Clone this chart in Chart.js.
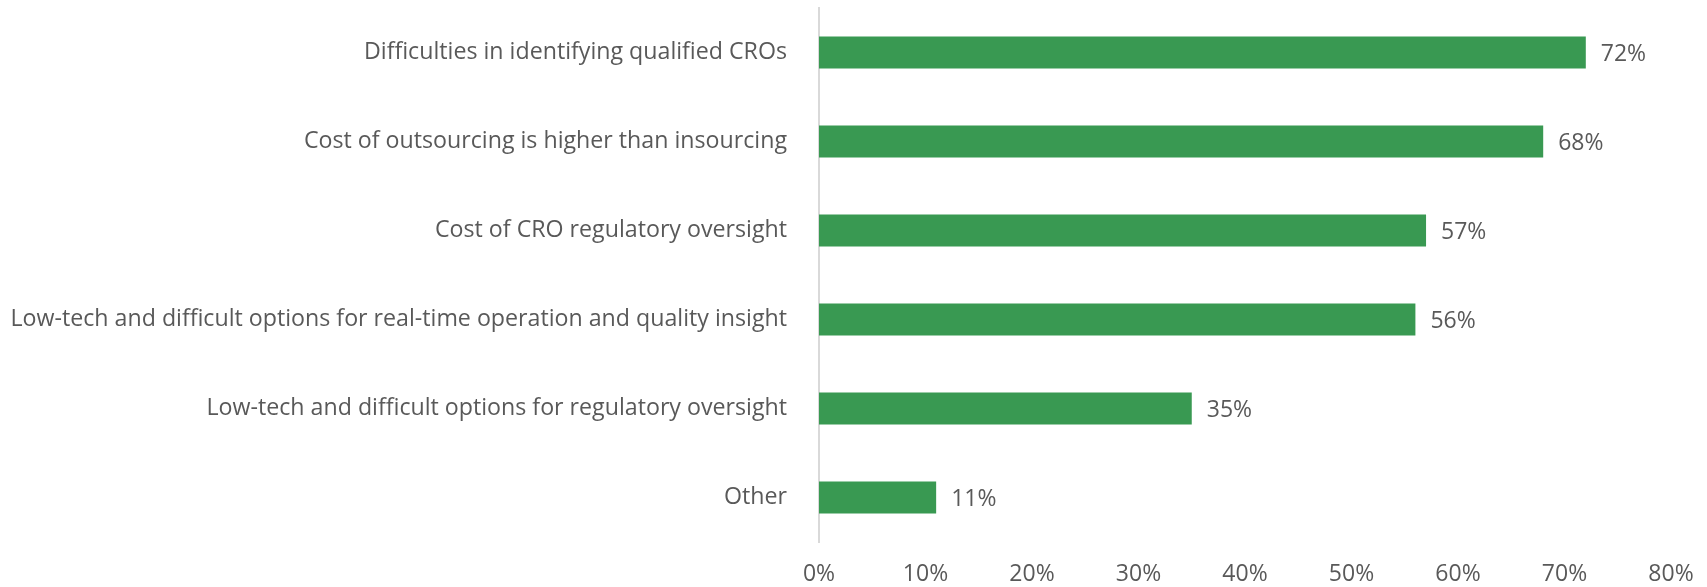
<!DOCTYPE html>
<html>
<head>
<meta charset="utf-8">
<script src="https://cdn.jsdelivr.net/npm/chart.js@4"></script>
<style>
  html, body { margin: 0; padding: 0; background: #fff; }
  #wrap { width: 1707px; height: 587px; }
</style>
</head>
<body>
<div id="wrap"><canvas id="chart"></canvas></div>
<script>
var categories = [
  'Difficulties in identifying qualified CROs',
  'Cost of outsourcing is higher than insourcing',
  'Cost of CRO regulatory oversight',
  'Low-tech and difficult options for real-time operation and quality insight',
  'Low-tech and difficult options for regulatory oversight',
  'Other'
];
var values = [72, 68, 57, 56, 35, 11];
var tickLabels = ['0%', '10%', '20%', '30%', '40%', '50%', '60%', '70%', '80%'];

var FONT = '"Open Sans", sans-serif';
var GREY = '#595959';

// writes the percentage just past the end of each bar
var barLabels = {
  id: 'barLabels',
  afterDatasetsDraw: function(chart) {
    var ctx = chart.ctx;
    var meta = chart.getDatasetMeta(0);
    ctx.save();
    ctx.font = '23px ' + FONT;
    ctx.fillStyle = GREY;
    ctx.textAlign = 'left';
    ctx.textBaseline = 'middle';
    meta.data.forEach(function(bar, i) {
      ctx.fillText(values[i] + '%', bar.x + 15, bar.y + 2);
    });
    ctx.restore();
  }
};

new Chart(document.getElementById('chart'), {
  type: 'bar',
  data: {
    labels: categories,
    datasets: [{
      data: values,
      backgroundColor: 'rgb(57, 153, 82)',
      categoryPercentage: 0.36,
      barPercentage: 1
    }]
  },
  options: {
    indexAxis: 'y',
    responsive: true,
    maintainAspectRatio: false,
    animation: false,
    layout: { padding: { top: 8, right: 36, left: 0, bottom: 0 } },
    plugins: {
      legend: { display: false },
      tooltip: { enabled: false }
    },
    scales: {
      x: {
        min: 0,
        max: 80,
        grid: { display: false },
        border: { display: false },
        afterFit: function(scale) { scale.height = 45; },
        ticks: {
          stepSize: 10,
          padding: 11,
          color: GREY,
          font: { family: FONT, size: 23 },
          callback: function(v, i) { return tickLabels[i]; }
        }
      },
      y: {
        grid: { display: false },
        border: { display: true, color: '#d9d9d9', width: 2 },
        afterFit: function(scale) {
          scale.width = 819;
          scale.paddingTop = 0;
          scale.paddingBottom = 0;
        },
        ticks: {
          padding: 24,
          color: GREY,
          font: { family: FONT, size: 23.2 }
        }
      }
    }
  },
  plugins: [barLabels]
});
</script>
</body>
</html>
